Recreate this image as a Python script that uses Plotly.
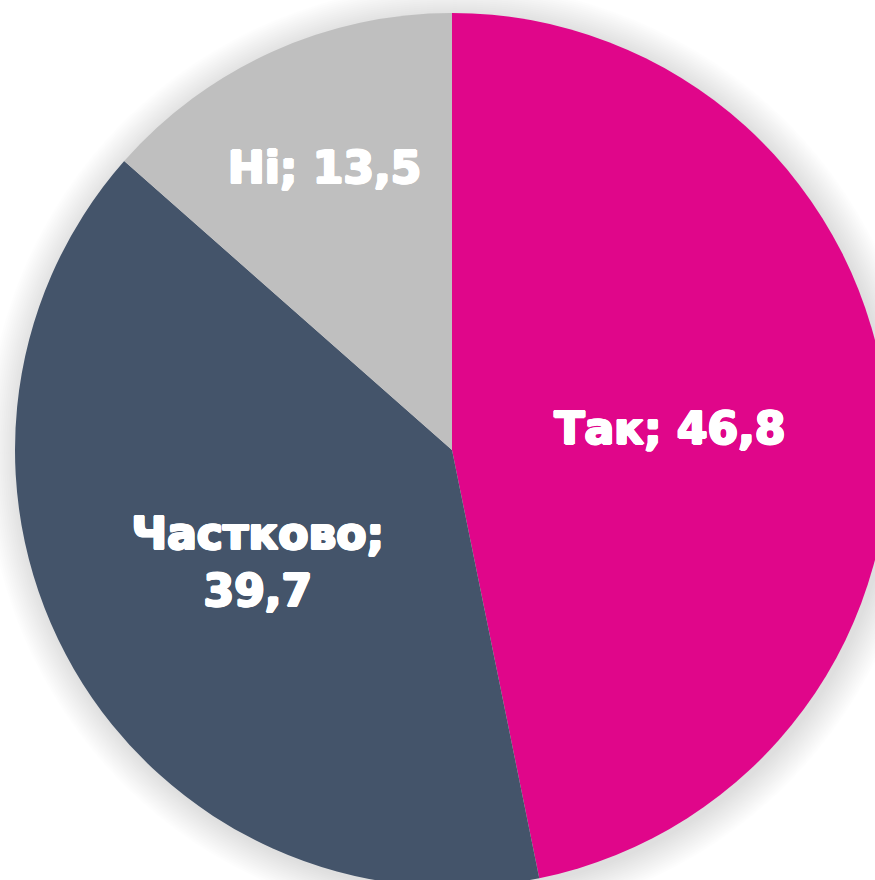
import plotly.graph_objects as go

# ---- data ----
labels = ["Так", "Частково", "Ні"]
values = [46.8, 39.7, 13.5]
colors = ["#E0068A", "#44546A", "#BFBFBF"]

def fmt(label, v):
    sep = "<br>" if len(label) > 4 else " "
    return f"{label};{sep}{str(v).replace('.', ',')}"

texts = [fmt(l, v) for l, v in zip(labels, values)]

# ---- geometry (page pixels) ----
OFF = 40            # figure shifted up/left by this many px on the page
W, H = 1000, 1000
CX, CY = 452 + OFF, 450 + OFF   # pie centre in figure px (from top-left)
R = 437

def dom(r, dx=0, dy=0):
    cx, cy = CX + dx, CY + dy
    return dict(x=[(cx - r) / W, (cx + r) / W],
                y=[(H - cy - r) / H, (H - cy + r) / H])

fig = go.Figure()

# soft shadow (layered translucent discs)
for k in range(16, 0, -1):
    fig.add_trace(go.Pie(
        values=[1], labels=["shadow"], marker=dict(colors=["rgba(0,0,0,0.008)"], line=dict(width=0)),
        domain=dom(R + 2 * k, 3, 3), textinfo="none", hoverinfo="skip",
        showlegend=False, sort=False))

thick = ("1.2px 0 0 white, -1.2px 0 0 white, 0 1px 0 white, 0 -1px 0 white, "
         "0.8px 0.8px 0 white, -0.8px -0.8px 0 white, 0.8px -0.8px 0 white, -0.8px 0.8px 0 white")

fig.add_trace(go.Pie(
    labels=labels, values=values, text=texts,
    textinfo="text", texttemplate="%{text}",
    textposition="inside", insidetextorientation="horizontal",
    sort=False, direction="clockwise", rotation=0,
    marker=dict(colors=colors, line=dict(width=0)),
    textfont=dict(family="DejaVu Sans", size=44, color="white", weight="bold", shadow=thick),
    domain=dom(R), showlegend=False,
))

fig.update_layout(
    width=W, height=H,
    margin=dict(l=0, r=0, t=0, b=0),
    paper_bgcolor="white", plot_bgcolor="white",
    uniformtext=dict(minsize=10, mode="show"),
)

fig.write_html(
    "out.html",
    post_script=f"document.body.style.margin='-{OFF}px 0 0 -{OFF}px';document.body.style.overflow='hidden';",
)
